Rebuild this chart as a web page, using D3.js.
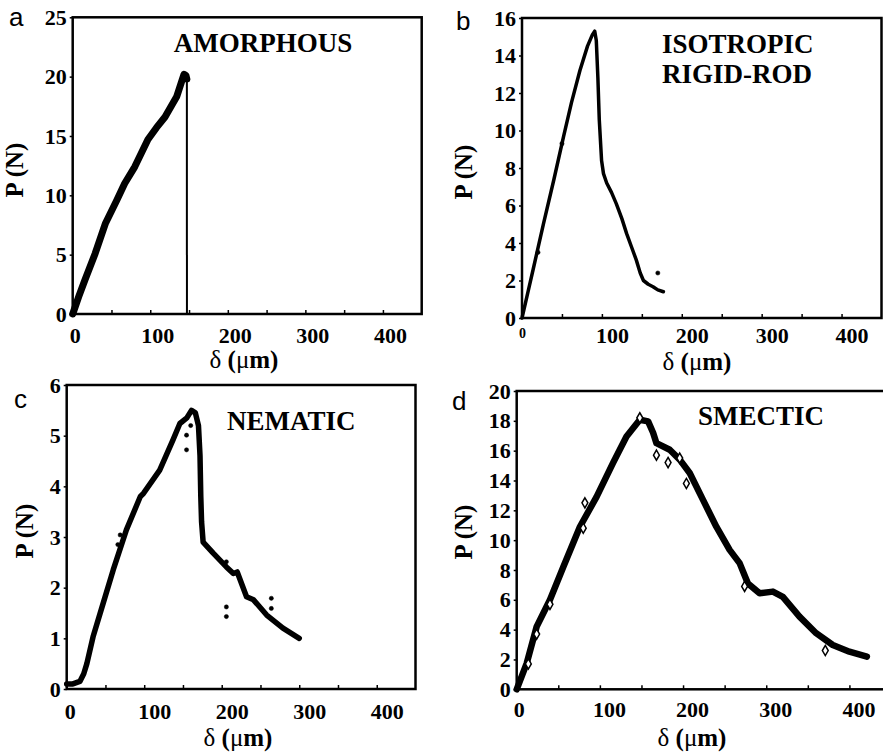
<!DOCTYPE html>
<html>
<head>
<meta charset="utf-8">
<script src="https://cdn.jsdelivr.net/npm/d3@7"></script>
<style>
  html, body { margin: 0; padding: 0; background: #fff; }
  svg { display: block; }
</style>
</head>
<body>
<div id="chart"></div>
<script>
const serif = "'Liberation Serif', 'Times New Roman', serif";

// Tick values (x ticks every 50 µm, labels every 100)
const deltaTicks = [0, 50, 100, 150, 200, 250, 300, 350, 400];
const loadTicksA = [0, 5, 10, 15, 20, 25];
const loadTicksB = [0, 2, 4, 6, 8, 10, 12, 14, 16];
const loadTicksC = [0, 1, 2, 3, 4, 5, 6];
const loadTicksD = [0, 2, 4, 6, 8, 10, 12, 14, 16, 18, 20];

// a: amorphous (last point = brittle failure drop)
const amorphousDelta = [0, 8, 16, 29, 42, 57, 67, 80, 97, 108, 119, 134, 140, 143.5, 146, 147.2, 147.3];
const amorphousLoad  = [0, 1.5, 2.9, 5.1, 7.6, 9.6, 11, 12.4, 14.7, 15.7, 16.6, 18.3, 19.5, 20.2, 20.1, 19.8, 0];

// b: isotropic rigid-rod
const isotropicDelta = [0, 7, 14, 27, 40, 52, 62, 72.5, 82, 88, 91, 93, 95, 96.7, 99.6, 102, 106, 112, 118, 125, 131, 137, 143, 148, 152, 158, 164, 170, 177];
const isotropicLoad  = [0, 1.3, 2.6, 5.05, 7.4, 9.67, 11.5, 13.2, 14.5, 15.1, 15.3, 14.8, 12.8, 10.6, 8.4, 7.7, 7.2, 6.7, 6.1, 5.3, 4.5, 3.8, 3.1, 2.4, 2.0, 1.8, 1.67, 1.5, 1.4];
const isotropicStrayDelta = [170, 20, 50];
const isotropicStrayLoad  = [2.4, 3.5, 9.3];

// c: nematic
const nematicDelta = [0, 8, 17, 22, 26, 34, 47, 60, 77, 95, 99, 120, 137, 146, 155, 161, 166, 170, 172, 173, 174, 176, 189, 206, 215, 220, 232, 241, 258, 279, 300];
const nematicLoad  = [0.1, 0.1, 0.15, 0.3, 0.5, 1.03, 1.69, 2.35, 3.14, 3.8, 3.86, 4.32, 4.91, 5.24, 5.35, 5.5, 5.45, 5.2, 4.6, 3.8, 3.3, 2.9, 2.68, 2.41, 2.28, 2.31, 1.82, 1.76, 1.46, 1.2, 1.0];
const nematicStrayDelta = [154.6, 154.6, 160, 69, 66, 206, 206, 206, 264, 264];
const nematicStrayLoad  = [4.72, 5.01, 5.2, 3.04, 2.85, 2.51, 1.62, 1.43, 1.79, 1.59];

// d: smectic
const smecticDelta = [0, 12, 24, 40, 56, 76, 96, 116, 132, 148, 158, 164, 168, 184, 196, 208, 224, 240, 256, 268, 278, 292, 308, 320, 340, 360, 380, 400, 421];
const smecticLoad  = [0, 1.74, 4.2, 6.0, 8.2, 10.9, 12.9, 15.2, 16.95, 18.07, 17.96, 17.2, 16.5, 16.06, 15.4, 14.5, 12.7, 10.9, 9.35, 8.46, 7.1, 6.44, 6.55, 6.2, 4.87, 3.76, 2.97, 2.52, 2.19];
const smecticStrayDelta = [82, 80, 14, 24, 40, 168, 182, 196, 204, 274, 371, 148];
const smecticStrayLoad  = [12.5, 10.8, 1.7, 3.7, 5.7, 15.7, 15.2, 15.5, 13.8, 6.9, 2.6, 18.2];

const width = 883, height = 754;
const svg = d3.select("#chart").append("svg")
    .attr("width", width)
    .attr("height", height);

// Panel layout (pixel boxes)
const panels = [
  { letter: "a", box: [72.7, 17.3, 421.7, 314], yMax: 25, yTicks: loadTicksA,
    xs: amorphousDelta, ys: amorphousLoad, sx: [], sy: [], stroke: 7,
    title: ["AMORPHOUS"], titlePos: [263, 52], titleAnchor: "middle",
    letterPos: [9, 26], pPos: [23, 170], dPos: [244, 368], labelDy: 29, shift: 7, zeroShift: 2 },
  { letter: "b", box: [522, 18, 881.5, 318], yMax: 16, yTicks: loadTicksB,
    xs: isotropicDelta, ys: isotropicLoad, sx: isotropicStrayDelta, sy: isotropicStrayLoad, stroke: 3.5,
    title: ["ISOTROPIC", "RIGID-ROD"], titlePos: [662, 53], titleAnchor: "start",
    letterPos: [456, 30], pPos: [472, 172], dPos: [697, 370], labelDy: 25, shift: 10, zeroShift: 0, smallZero: true },
  { letter: "c", box: [66.7, 385, 415.5, 689], yMax: 6, yTicks: loadTicksC,
    xs: nematicDelta, ys: nematicLoad, sx: nematicStrayDelta, sy: nematicStrayLoad, stroke: 5.5,
    title: ["NEMATIC"], titlePos: [227, 430], titleAnchor: "start",
    letterPos: [14, 408], pPos: [33, 531], dPos: [238, 746], labelDy: 30, shift: 10, zeroShift: 3 },
  { letter: "d", box: [516.7, 391, 891, 689.3], yMax: 20, yTicks: loadTicksD,
    xs: smecticDelta, ys: smecticLoad, sx: smecticStrayDelta, sy: smecticStrayLoad, stroke: 6.5,
    title: ["SMECTIC"], titlePos: [698, 425], titleAnchor: "start",
    letterPos: [452, 410], pPos: [472, 532], dPos: [692, 746], labelDy: 28, shift: 9, zeroShift: 2 }
];

panels.forEach(p => {
  const [x0, y0, x1, y1] = p.box;
  const x = d3.scaleLinear().domain([0, 450]).range([x0, x1]);
  const y = d3.scaleLinear().domain([0, p.yMax]).range([y1, y0]);
  const g = svg.append("g");

  // frame
  g.append("rect")
    .attr("x", x0).attr("y", y0)
    .attr("width", x1 - x0).attr("height", y1 - y0)
    .attr("fill", "none").attr("stroke", "#000").attr("stroke-width", 2.5);

  // x axis: inward ticks every 50, labels every 100
  const xAxis = g.append("g")
    .attr("transform", `translate(0,${y1})`)
    .call(d3.axisBottom(x).tickValues(deltaTicks).tickSize(-4)
      .tickFormat(d => d % 100 === 0 ? d : ""));
  xAxis.attr("font-family", serif).attr("font-size", 22);
  xAxis.select(".domain").remove();
  xAxis.selectAll("line").attr("stroke-width", 1.5);
  xAxis.selectAll("text")
    .style("font-family", serif)
    .style("font-weight", "bold")
    .style("font-size", d => (d === 0 && p.smallZero) ? "14px" : "22px")
    .attr("fill", "#000")
    .attr("y", d => (d === 0 && p.smallZero) ? p.labelDy - 5 : p.labelDy)
    .attr("dy", null)
    .attr("x", d => d === 0 ? p.zeroShift : p.shift);

  // y axis
  const yAxis = g.append("g")
    .attr("transform", `translate(${x0},0)`)
    .call(d3.axisLeft(y).tickValues(p.yTicks).tickSize(3).tickPadding(3)
      .tickFormat(d3.format("d")));
  yAxis.attr("font-family", serif).attr("font-size", 22);
  yAxis.select(".domain").remove();
  yAxis.selectAll("line").attr("stroke-width", 1.5);
  yAxis.selectAll("text")
    .style("font-family", serif)
    .style("font-weight", "bold")
    .style("font-size", "22px")
    .attr("fill", "#000");

  // data curve
  const line = d3.line().x(d => x(d[0])).y(d => y(d[1]));
  const pts = p.xs.map((v, i) => [v, p.ys[i]]);
  if (p.letter === "a") {
    g.append("path").datum(pts.slice(-2)).attr("d", line)
      .attr("fill", "none").attr("stroke", "#000").attr("stroke-width", 2);
    g.append("path").datum(pts.slice(0, -1)).attr("d", line)
      .attr("fill", "none").attr("stroke", "#000").attr("stroke-width", p.stroke)
      .attr("stroke-linejoin", "round").attr("stroke-linecap", "round");
  } else {
    g.append("path").datum(pts).attr("d", line)
      .attr("fill", "none").attr("stroke", "#000").attr("stroke-width", p.stroke)
      .attr("stroke-linejoin", "round").attr("stroke-linecap", "round");
  }

  // stray data points
  const isD = p.letter === "d";
  const sym = d3.symbol().type(isD ? d3.symbolDiamond : d3.symbolCircle).size(isD ? 30 : 14);
  g.selectAll(".stray")
    .data(p.sx.map((v, i) => [v, p.sy[i]]))
    .join("path")
    .attr("transform", d => `translate(${x(d[0])},${y(d[1])})`)
    .attr("d", sym)
    .attr("fill", isD ? "#fff" : "#000")
    .attr("stroke", "#000")
    .attr("stroke-width", isD ? 1.5 : 0.5);

  // title
  const t = g.append("text")
    .style("font-family", serif).style("font-weight", "bold")
    .attr("font-size", 27)
    .attr("text-anchor", p.titleAnchor)
    .attr("x", p.titlePos[0]).attr("y", p.titlePos[1]);
  p.title.forEach((s, i) => {
    t.append("tspan").attr("x", p.titlePos[0]).attr("dy", i === 0 ? 0 : 30).text(s);
  });

  // panel letter
  g.append("text")
    .attr("x", p.letterPos[0]).attr("y", p.letterPos[1])
    .attr("font-family", "'Liberation Sans', Arial, sans-serif")
    .attr("font-size", 26)
    .text(p.letter);

  // axis titles
  g.append("text")
    .style("font-family", serif).style("font-weight", "bold")
    .attr("font-size", 25)
    .attr("text-anchor", "middle")
    .attr("transform", `translate(${p.pPos[0]},${p.pPos[1]}) rotate(-90)`)
    .text("P (N)");

  const dt = g.append("text")
    .style("font-family", serif).style("font-weight", "bold")
    .attr("font-size", 25)
    .attr("text-anchor", "middle")
    .attr("x", p.dPos[0]).attr("y", p.dPos[1]);
  dt.append("tspan").style("font-weight", "normal").text("δ");
  dt.append("tspan").text(" (");
  dt.append("tspan").style("font-weight", "normal").text("μ");
  dt.append("tspan").text("m)");
});
</script>
</body>
</html>
